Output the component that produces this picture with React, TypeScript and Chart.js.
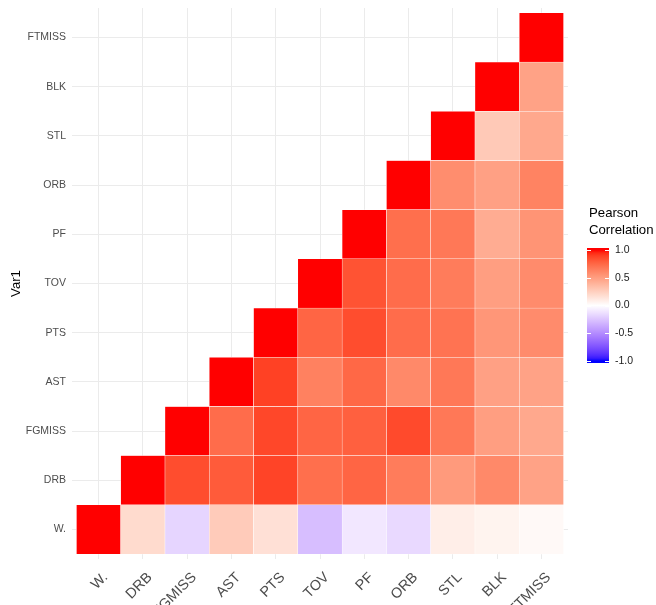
import React, { useEffect, useRef } from 'react';
import { Chart, registerables } from 'chart.js';

Chart.register(...registerables);

// Variables, bottom-to-top on the y axis and left-to-right on the x axis
const VARS = ['W.', 'DRB', 'FGMISS', 'AST', 'PTS', 'TOV', 'PF', 'ORB', 'STL', 'BLK', 'FTMISS'];

// Upper triangle of the correlation matrix: row i holds cor(VARS[i], VARS[i..10])
const ROW_W = [1, 0.19, -0.18, 0.27, 0.16, -0.28, -0.1, -0.16, 0.09, 0.06, 0.03];
const ROW_DRB = [1, 0.85, 0.8, 0.88, 0.72, 0.76, 0.66, 0.52, 0.6, 0.48];
const ROW_FGMISS = [1, 0.73, 0.87, 0.76, 0.78, 0.86, 0.68, 0.5, 0.45];
const ROW_AST = [1, 0.89, 0.64, 0.75, 0.6, 0.68, 0.49, 0.48];
const ROW_PTS = [1, 0.76, 0.85, 0.73, 0.7, 0.54, 0.59];
const ROW_TOV = [1, 0.83, 0.73, 0.66, 0.5, 0.59];
const ROW_PF = [1, 0.72, 0.68, 0.43, 0.55];
const ROW_ORB = [1, 0.58, 0.49, 0.63];
const ROW_STL = [1, 0.28, 0.45];
const ROW_BLK = [1, 0.48];
const ROW_FTMISS = [1];
const ROWS = [ROW_W, ROW_DRB, ROW_FGMISS, ROW_AST, ROW_PTS, ROW_TOV, ROW_PF, ROW_ORB, ROW_STL, ROW_BLK, ROW_FTMISS];

const LEGEND_TICKS = [-1, -0.5, 0, 0.5, 1];
const LEGEND_TITLE = ['Pearson', 'Correlation'];
const Y_TITLE = 'Var1';

const LOW = '#0000FF';
const MID = '#FFFFFF';
const HIGH = '#FF0000';

// ---- Lab colour interpolation (like scales::div_gradient_pal) ----
const XN = 0.95047, YN = 1.0, ZN = 1.08883;
function hexToLab(hex: string): number[] {
  const n = parseInt(hex.slice(1), 16);
  const c = [(n >> 16) & 255, (n >> 8) & 255, n & 255].map((v) => {
    const s = v / 255;
    return s <= 0.04045 ? s / 12.92 : Math.pow((s + 0.055) / 1.055, 2.4);
  });
  const X = (0.4124 * c[0] + 0.3576 * c[1] + 0.1805 * c[2]) / XN;
  const Y = (0.2126 * c[0] + 0.7152 * c[1] + 0.0722 * c[2]) / YN;
  const Z = (0.0193 * c[0] + 0.1192 * c[1] + 0.9505 * c[2]) / ZN;
  const f = (t: number) => (t > 0.008856 ? Math.cbrt(t) : 7.787 * t + 16 / 116);
  const fx = f(X), fy = f(Y), fz = f(Z);
  return [116 * fy - 16, 500 * (fx - fy), 200 * (fy - fz)];
}
function labToRgb(L: number, a: number, b: number): string {
  const fy = (L + 16) / 116;
  const fx = fy + a / 500;
  const fz = fy - b / 200;
  const finv = (t: number) => (t * t * t > 0.008856 ? t * t * t : (t - 16 / 116) / 7.787);
  const X = XN * finv(fx), Y = YN * finv(fy), Z = ZN * finv(fz);
  const lin = [
    3.2406 * X - 1.5372 * Y - 0.4986 * Z,
    -0.9689 * X + 1.8758 * Y + 0.0415 * Z,
    0.0557 * X - 0.204 * Y + 1.057 * Z,
  ];
  const out = lin.map((v) => {
    const s = v <= 0.0031308 ? 12.92 * v : 1.055 * Math.pow(Math.max(v, 0), 1 / 2.4) - 0.055;
    return Math.round(Math.min(1, Math.max(0, s)) * 255);
  });
  return `rgb(${out[0]},${out[1]},${out[2]})`;
}
const LAB_LOW = hexToLab(LOW), LAB_MID = hexToLab(MID), LAB_HIGH = hexToLab(HIGH);
function corrColor(v: number): string {
  const end = v >= 0 ? LAB_HIGH : LAB_LOW;
  const t = Math.min(1, Math.abs(v));
  return labToRgb(
    LAB_MID[0] + (end[0] - LAB_MID[0]) * t,
    LAB_MID[1] + (end[1] - LAB_MID[1]) * t,
    LAB_MID[2] + (end[2] - LAB_MID[2]) * t
  );
}

const FONT = "'Liberation Sans', Arial, Helvetica, sans-serif";
const GRID = '#EBEBEB';
const AXIS_TEXT = '#4D4D4D';

// Legend scale limits chosen so that -1..1 occupy the colour bar's span
const LEG_MIN = -4.5676;
const LEG_MAX = 5.3604;

const legendPlugin = {
  id: 'corrLegend',
  afterDraw(chart: any) {
    const s = chart.scales.leg;
    const ctx = chart.ctx;
    const x0 = s.left + 19;
    const w = 22;
    const yTop = s.getPixelForValue(1) - 2;
    const yBot = s.getPixelForValue(-1) + 2;
    const grad = ctx.createLinearGradient(0, yTop, 0, yBot);
    for (let k = 0; k <= 40; k++) {
      const v = 1 - k / 20;
      const y = s.getPixelForValue(v);
      const off = Math.min(1, Math.max(0, (y - yTop) / (yBot - yTop)));
      grad.addColorStop(off, corrColor(v));
    }
    ctx.save();
    ctx.fillStyle = grad;
    ctx.fillRect(x0, yTop, w, yBot - yTop);
    ctx.strokeStyle = '#FFFFFF';
    ctx.lineWidth = 1;
    LEGEND_TICKS.forEach((v) => {
      const y = Math.round(s.getPixelForValue(v)) + 0.5;
      ctx.beginPath();
      ctx.moveTo(x0, y);
      ctx.lineTo(x0 + 4, y);
      ctx.moveTo(x0 + w - 4, y);
      ctx.lineTo(x0 + w, y);
      ctx.stroke();
    });
    ctx.textAlign = 'left';
    ctx.textBaseline = 'middle';
    ctx.fillStyle = '#1A1A1A';
    ctx.font = `10.5px ${FONT}`;
    LEGEND_TICKS.forEach((v) => {
      ctx.fillText(v.toFixed(1), s.left + 47, s.getPixelForValue(v));
    });
    ctx.fillStyle = '#000000';
    ctx.font = `13.2px ${FONT}`;
    LEGEND_TITLE.forEach((t, i) => {
      ctx.fillText(t, s.left + 21, yTop - 35 + i * 17);
    });
    ctx.restore();
  },
};

export default function App() {
  const ref = useRef<HTMLCanvasElement | null>(null);
  useEffect(() => {
    if (!ref.current) return;
    const datasets = ROWS.map((row, i) => ({
      label: VARS[i],
      data: row.map((_, k) => ({ x: i + k + 1, y: [i + 0.5, i + 1.5] })),
      backgroundColor: row.map(corrColor),
      borderColor: '#FFFFFF',
      borderWidth: 0.5,
      borderSkipped: false,
      barPercentage: 1,
      categoryPercentage: 1,
      grouped: false,
      xAxisID: 'x',
      yAxisID: 'y',
    }));
    const tickList = (scale: any) => {
      scale.ticks = VARS.map((_, i) => ({ value: i + 1 }));
    };
    const chart = new Chart(ref.current, {
      type: 'bar',
      data: { datasets: datasets as any },
      plugins: [legendPlugin],
      options: {
        animation: false,
        responsive: false,
        devicePixelRatio: 1,
        layout: { padding: { top: 8, left: 0, right: 0, bottom: 0 } },
        plugins: { legend: { display: false }, tooltip: { enabled: false } },
        scales: {
          x: {
            type: 'linear',
            offset: false,
            min: 0.4,
            max: 11.6,
            afterBuildTicks: tickList,
            afterFit: (s: any) => {
              s.height = 81;
              s.paddingLeft = 0;
              s.paddingRight = 0;
            },
            grid: { color: GRID, lineWidth: 1, drawTicks: false, offset: false },
            border: { display: false },
            ticks: {
              autoSkip: false,
              maxRotation: 45,
              minRotation: 45,
              padding: 10,
              labelOffset: 7,
              color: AXIS_TEXT,
              font: { family: FONT, size: 14.4 },
              callback: (v: any) => VARS[Math.round(v) - 1],
            },
          },
          y: {
            type: 'linear',
            position: 'left',
            min: 0.4,
            max: 11.6,
            afterBuildTicks: tickList,
            afterFit: (s: any) => {
              s.width = 72;
              s.paddingTop = 0;
              s.paddingBottom = 0;
            },
            grid: { color: GRID, lineWidth: 1, drawTicks: false },
            border: { display: false },
            title: {
              display: true,
              text: Y_TITLE,
              color: '#000000',
              font: { family: FONT, size: 13.2 },
              padding: { top: 8, bottom: 0 },
            },
            ticks: {
              autoSkip: false,
              padding: 6,
              color: AXIS_TEXT,
              font: { family: FONT, size: 10.5 },
              callback: (v: any) => VARS[Math.round(v) - 1],
            },
          },
          leg: {
            type: 'linear',
            position: 'right',
            min: LEG_MIN,
            max: LEG_MAX,
            afterFit: (s: any) => {
              s.width = 88;
              s.paddingTop = 0;
              s.paddingBottom = 0;
            },
            grid: { display: false, drawTicks: false },
            border: { display: false },
            ticks: { display: false },
          },
        },
      },
    });
    return () => chart.destroy();
  }, []);
  return (
    <div style={{ position: 'fixed', left: 0, top: 0, width: 656, height: 605, overflow: 'hidden', background: '#FFFFFF' }}>
      <canvas ref={ref} width={656} height={640} style={{ display: 'block' }} />
    </div>
  );
}
